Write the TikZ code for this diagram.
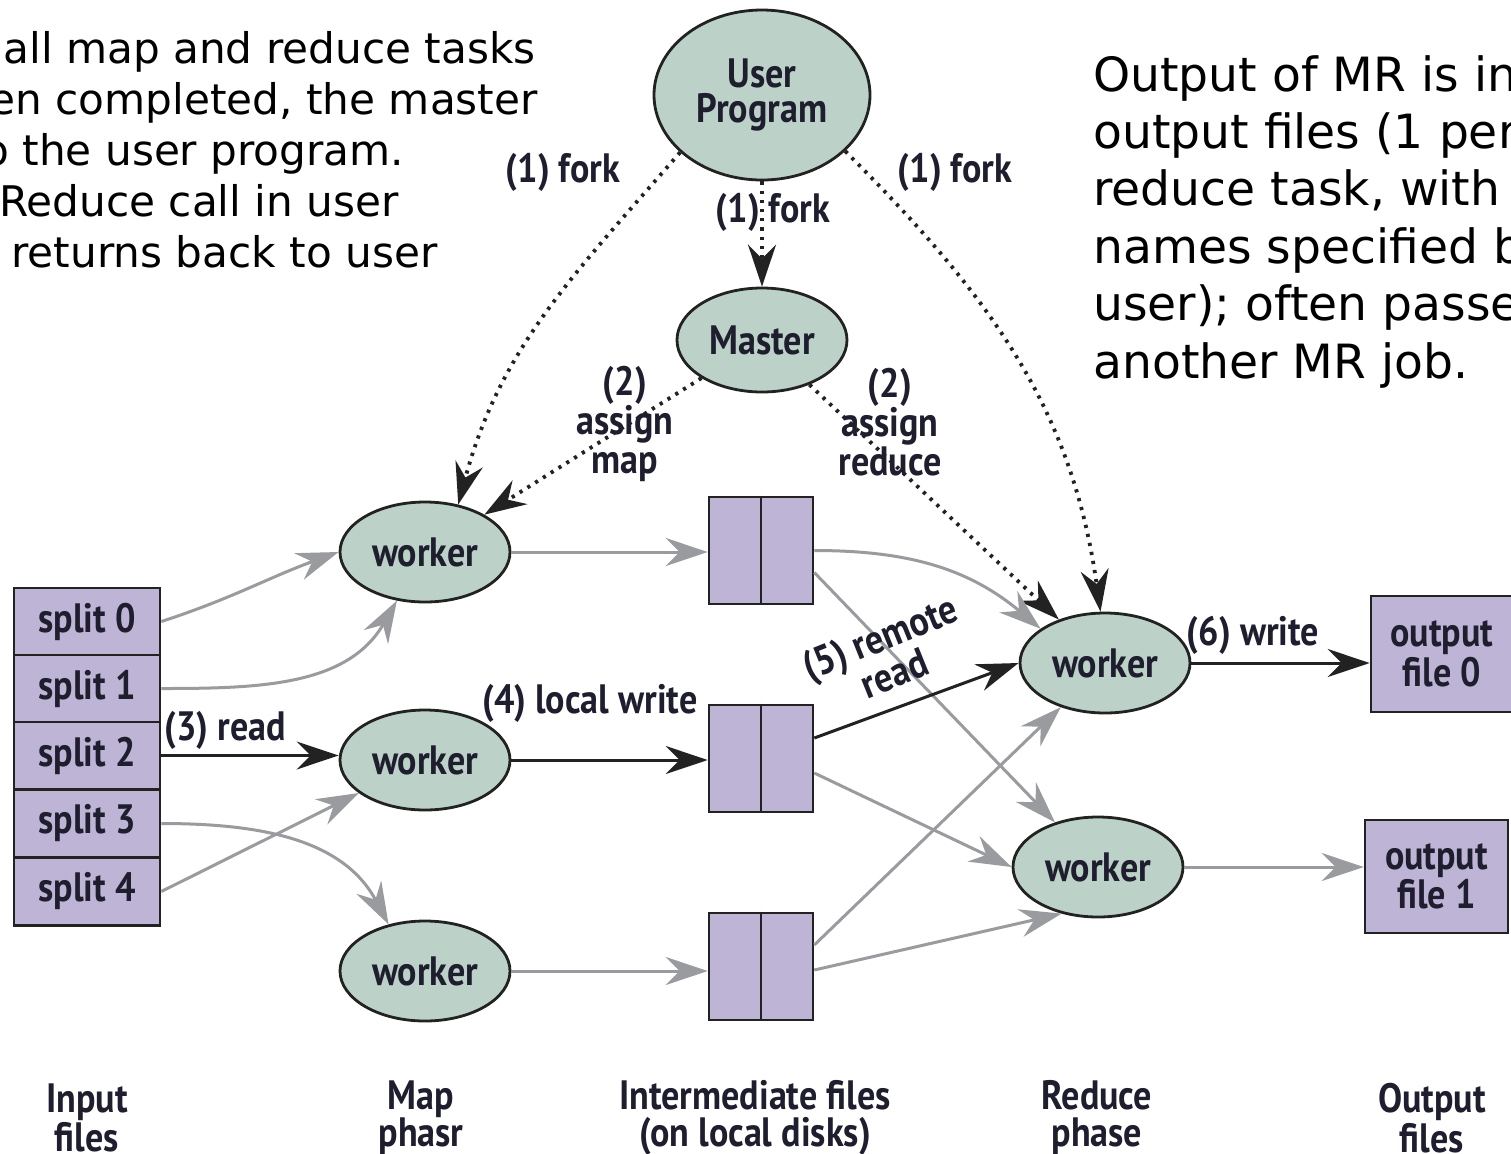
\documentclass[tikz,border=0pt]{standalone}
\usepackage{fontspec}
\setmainfont{DejaVu Sans}
\newfontfamily\dfont[FakeStretch=0.88]{PT Sans}
\usetikzlibrary{shapes.geometric,arrows.meta,calc}
\definecolor{ellfill}{HTML}{BCD2C8}
\definecolor{boxfill}{HTML}{BEB5D6}
\definecolor{grayc}{HTML}{999B9F}
\definecolor{outl}{HTML}{222222}
\definecolor{txt}{HTML}{1E1E2E}
\tikzset{
  dfnt/.style={font=\dfont\bfseries\fontsize{20.5}{19.5}\selectfont, text=txt},
  wk/.style={ellipse, draw=outl, line width=1.4pt, fill=ellfill, minimum width=85pt, minimum height=50pt, inner sep=0pt, dfnt},
  filebox/.style={rectangle, draw=outl, line width=1.3pt, fill=boxfill, inner sep=0pt, dfnt, align=center},
  tip/.tip={Stealth[length=21pt,width=14pt,inset=7pt]},
  gr/.style={draw=grayc, line width=1.5pt, -tip, color=grayc},
  bk/.style={draw=outl, line width=1.5pt, -tip, color=outl},
  dt/.style={draw=outl, line width=1.9pt, dash pattern=on 1.6pt off 3pt, -tip, color=outl},
  lbl/.style={dfnt, inner sep=0pt, align=center},
  ltxt/.style={anchor=base west, inner sep=0pt, font=\fontsize{21.1}{25.5}\selectfont},
  rtxt/.style={anchor=base west, inner sep=0pt, font=\fontsize{23.6}{28}\selectfont},
  twoline/.style={font=\dfont\bfseries\fontsize{20.5}{17.5}\selectfont},
  caplbl/.style={lbl, font=\dfont\bfseries\fontsize{20.5}{18.5}\selectfont},
}
\begin{document}
\begin{tikzpicture}[x=0.5pt,y=-0.5pt]
\useasboundingbox (0,0) rectangle (1511,1153);
\fill[white] (0,0) rectangle (1511,1153);

% annotation texts
\node[ltxt] (t1) at (3,63) {all map and reduce tasks};
\node[ltxt] (t2) at (-11,114) {en completed, the master};
\node[ltxt] (t3) at (-17,165) {o the user program.};
\node[ltxt] (t4) at (-1,216) {Reduce call in user};
\node[ltxt] (t5) at (11,267) {returns back to user};

\node[rtxt] (r1t) at (1093,91) {Output of MR is in};
\node[rtxt] (r2t) at (1093,148.4) {output files (1 per};
\node[rtxt] (r3t) at (1093,205.8) {reduce task, with};
\node[rtxt] (r4t) at (1093,263.2) {names specified by};
\node[rtxt] (r5t) at (1093,320.6) {user); often passed};
\node[rtxt] (r6t) at (1093,378) {another MR job.};

% nodes
\node[wk, minimum width=108pt, minimum height=85pt, align=center, twoline] (user) at (762,95) {User\\Program};
\node[wk, minimum height=52pt] (m) at (762,340) {Master};
\node[wk] (w1) at (425,552) {worker};
\node[wk] (w2) at (425,760) {worker};
\node[wk] (w3) at (425,971) {worker};
\node[wk] (r1) at (1105,663) {worker};
\node[wk] (r2) at (1098,867) {worker};

\foreach \i/\y in {0/621.5,1/688.5,2/755.5,3/823.5,4/891.5}
  \node[filebox, minimum width=73pt, minimum height=33.7pt] (s\i) at (87,\y) {split \i};

\foreach \i/\y in {1/550.5,2/758.5,3/966.5}{
  \node[filebox, minimum width=52pt, minimum height=53.5pt] (b\i) at (761,\y) {};
  \draw[draw=outl, line width=1.3pt] (b\i.north) -- (b\i.south);
}

\node[filebox, minimum width=71pt, minimum height=58pt, twoline] (o0) at (1442,654) {output\\file 0};
\node[filebox, minimum width=71.5pt, minimum height=56.5pt, twoline] (o1) at (1436.5,876.5) {output\\file 1};

% dotted fork/assign
\draw[dt] (user) -- (m);
\draw[dt] (user.215) to[out=229,in=75] (w1.55);
\draw[dt] (user.326) to[out=-45,in=98] (r1.95);
\draw[dt] (m) -- (w1);
\draw[dt] (m) -- (r1);

% input to map
\draw[gr] (s0.east) to[out=18,in=200] (w1.west);
\draw[gr] (s1.east) to[out=0,in=240] (w1.240);
\draw[bk] (s2.east) -- (s2.east -| w2.west);
\draw[gr] (s3.east) to[out=0,in=118] (w3.128);
\draw[gr] (s4.east) -- (w2);

% map to intermediate
\draw[gr] (w1.east) -- (w1.east -| b1.west);
\draw[bk] (w2.east) -- (w2.east -| b2.west);
\draw[gr] (w3.east) -- (w3.east -| b3.west);

% intermediate to reduce
\draw[gr] (b1.east) to[out=0,in=140] (r1.152);
\draw[gr] ($(b1.east)+(0,22)$) -- (r2);
\draw[bk] ($(b2.east)+(0,-20.5)$) -- (r1.west);
\draw[gr] ($(b2.east)+(0,14.5)$) -- (r2.west);
\draw[gr] ($(b3.east)+(0,-21.5)$) -- (r1.225);
\draw[gr] ($(b3.east)+(0,3.5)$) -- (r2.232);

% reduce to output
\draw[bk] (r1.east) -- (r1.east -| o0.west);
\draw[gr] (r2.east) -- (r2.east -| o1.west);

% labels
\node[lbl] (l1) at (563,172) {(1) fork};
\node[lbl] (l2) at (955,172) {(1) fork};
\node[lbl] (l3) at (773,212) {(1) fork};
\node[lbl] (l4) at (625,424) {(2)\\assign\\map};
\node[lbl] (l5) at (890,422) {(2)\\assign\\reduce};
\node[lbl] (l6) at (225,730) {(3) read};
\node[lbl] (l7) at (590,703) {(4) local write};
\node[lbl, rotate=22] (l8) at (887,655) {(5) remote\\read};
\node[lbl] (l9) at (1253,635) {(6) write};

% bottom labels
\node[caplbl] (c1) at (87,1118) {Input\\files};
\node[caplbl] (c2) at (421,1118) {Map\\phasr};
\node[caplbl] (c3) at (755,1118) {Intermediate files\\(on local disks)};
\node[caplbl] (c4) at (1097,1118) {Reduce\\phase};
\node[caplbl] (c5) at (1432,1118) {Output\\files};
\end{tikzpicture}
\end{document}
